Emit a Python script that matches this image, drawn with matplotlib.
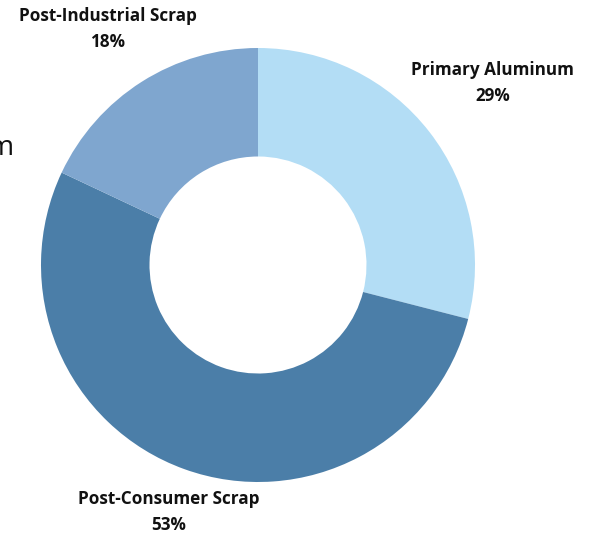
import numpy as np
import matplotlib
matplotlib.use('Agg')
import matplotlib.pyplot as plt

plt.rcParams['font.family'] = ['Open Sans', 'DejaVu Sans']

# Aluminum supply by source
sources = ['Primary Aluminum', 'Post-Consumer Scrap', 'Post-Industrial Scrap']
shares = [29, 53, 18]
colors = ['#b3ddf5', '#4b7ea8', '#7fa6cf']
label_radius = [1.37, 1.21, 1.29]

fig = plt.figure(figsize=(5.9, 5.33), dpi=100)
ax = fig.add_axes([0, 0, 1, 1])

wedges, _ = ax.pie(shares, colors=colors, startangle=90, counterclock=False,
                   radius=1.0, wedgeprops=dict(width=0.5, edgecolor='none'))

# labels sit outside each wedge, at its mid angle
for w, name, val, r in zip(wedges, sources, shares, label_radius):
    mid = np.deg2rad((w.theta1 + w.theta2) / 2)
    ax.text(r * np.cos(mid), r * np.sin(mid), f'{name}\n{val}%',
            ha='center', va='center', fontsize=12.3, fontweight='bold',
            color='#111111', linespacing=1.58)

# chart title, mostly out of frame on the left
ax.text(-1.126, 0.507, 'Aluminum', ha='right', va='baseline', fontsize=20, color='#111111')

ax.set_xlim(-258 / 217, (590 - 258) / 217)
ax.set_ylim(-268 / 217, 265 / 217)
ax.set_aspect('auto')
ax.axis('off')

fig.savefig('out.png', dpi=100)
